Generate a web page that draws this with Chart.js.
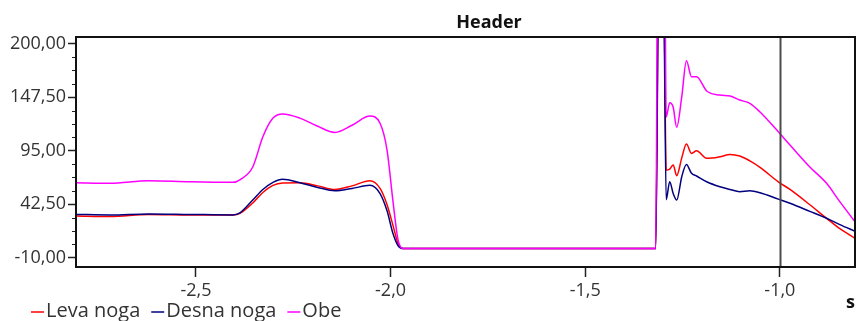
<!DOCTYPE html>
<html>
<head>
<meta charset="utf-8">
<script src="https://cdn.jsdelivr.net/npm/chart.js@4.4.1/dist/chart.umd.min.js"></script>
<style>
  html, body { margin: 0; padding: 0; background: #ffffff; }
  #wrap { width: 856px; height: 321px; }
</style>
</head>
<body>
<div id="wrap"><canvas id="forceChart" width="856" height="321"></canvas></div>
<script>
// ===== DATA =====
var chartTitle = "Header";
var xAxisUnit = "s";
var seriesNames = ["Leva noga", "Desna noga", "Obe"];
var seriesColors = ["#ff0000", "#000080", "#ff00ff"];

var timeSec = [-2.808, -2.721, -2.621, -2.516, -2.405, -2.387, -2.354, -2.328, -2.302, -2.277,
    -2.233, -2.187, -2.143, -2.099, -2.053, -2.027, -2.009, -1.994, -1.981, -1.968,
    -1.925, -1.719, -1.462, -1.319, -1.311, -1.298, -1.292, -1.283, -1.274, -1.265,
    -1.252, -1.240, -1.227, -1.214, -1.188, -1.154, -1.128, -1.103, -1.077, -1.051,
    -1.004, -0.974, -0.923, -0.880, -0.846, -0.807];

var levaNoga = [31, 30.5, 32.5, 32, 32, 33.5, 43.7, 54, 61, 63.3,
    63.5, 60.5, 57, 60.5, 65.5, 58, 42, 22, 4.4, -1,
    -1, -1, -1, -1, 280, 250, 76, 77, 81, 70.5,
    88, 101.6, 92.4, 95, 87.5, 89.1, 91.4, 89.8, 85, 78.7,
    64.5, 57, 42, 28.7, 18.5, 9];

var desnaNoga = [32.5, 32, 33, 32.5, 32, 34, 46.6, 57, 64, 67,
    63.6, 59, 55.7, 58, 61, 53, 36, 14, 2, -1,
    -1, -1, -1, -1, 260, 230, 47, 64.6, 53, 46.6,
    69.5, 81.6, 72.8, 70.2, 64.6, 59.7, 57, 54.8, 55.7, 53.8,
    47.5, 43.4, 35.5, 28.7, 22.5, 16];

var obe = [63.5, 63, 65.5, 64.5, 64, 66.5, 79, 108.7, 127, 131,
    127, 119, 113, 120, 129, 122, 95.7, 46, 8, -1,
    -1, -1, -1, -1, 540, 480, 128, 142, 137.6, 118,
    148, 183.3, 167.6, 167.6, 153.6, 149.6, 148.6, 144.7, 141.5, 133,
    113.6, 100.6, 79, 63, 45, 25.3];

var xTicks = [-2.5, -2.0, -1.5, -1.0];
var yTicks = [-10, 42.5, 95, 147.5, 200];
var yMinorStep = 13.125;
var cursorTime = -1.0;

var xMin = -2.808, xMax = -0.807;
var yMin = -19.1, yMax = 206.6;

// ===== HELPERS =====
function toPoints(xs, ys) {
    return xs.map(function (x, i) { return { x: x, y: ys[i] }; });
}

function commaNum(v, digits) {
    return v.toFixed(digits).replace('.', ',');
}

var FONT = "'Open Sans', 'Noto Sans', sans-serif";
var TEXT_COLOR = "#333333";

// ===== PLUGINS =====
var framePlugin = {
    id: 'frame',
    afterDatasetsDraw: function (chart) {
        var ctx = chart.ctx;
        var area = chart.chartArea;
        var xs = chart.scales.x;
        var ys = chart.scales.y;

        ctx.save();
        // cursor line
        var cx = Math.round(xs.getPixelForValue(cursorTime)) + 0.5;
        ctx.strokeStyle = "#4a4a4a";
        ctx.lineWidth = 2;
        ctx.beginPath();
        ctx.moveTo(cx, area.top);
        ctx.lineTo(cx, area.bottom);
        ctx.stroke();

        // minor y ticks
        ctx.strokeStyle = "#222222";
        ctx.lineWidth = 1;
        for (var v = yTicks[0]; v <= yMax; v += yMinorStep) {
            if (yTicks.indexOf(v) >= 0) continue;
            var py = Math.round(ys.getPixelForValue(v)) + 0.5;
            ctx.beginPath();
            ctx.moveTo(area.left - 4, py);
            ctx.lineTo(area.left, py);
            ctx.stroke();
        }

        // frame
        ctx.strokeStyle = "#111111";
        ctx.lineWidth = 2;
        ctx.strokeRect(area.left, area.top, area.right - area.left, area.bottom - area.top);
        ctx.restore();
    },
    afterDraw: function (chart) {
        var ctx = chart.ctx;
        ctx.save();

        // title
        ctx.fillStyle = "#111111";
        ctx.font = "bold 18px " + FONT;
        ctx.textAlign = "center";
        ctx.textBaseline = "alphabetic";
        ctx.fillText(chartTitle, 489, 28);

        // unit
        ctx.textAlign = "left";
        ctx.fillText(xAxisUnit, 846, 308);

        // legend
        ctx.font = "20px " + FONT;
        ctx.fillStyle = TEXT_COLOR;
        var lx = 31;
        seriesNames.forEach(function (name, i) {
            ctx.strokeStyle = seriesColors[i];
            ctx.globalAlpha = 0.75;
            ctx.lineWidth = 2;
            ctx.beginPath();
            ctx.moveTo(lx, 312);
            ctx.lineTo(lx + 13, 312);
            ctx.stroke();
            ctx.globalAlpha = 1;
            ctx.fillText(name, lx + 15, 317);
            lx += 15 + ctx.measureText(name).width + 11;
        });
        ctx.restore();
    }
};

// ===== CHART =====
var datasets = [
    { label: seriesNames[0], data: toPoints(timeSec, levaNoga), borderColor: seriesColors[0], order: 2 },
    { label: seriesNames[1], data: toPoints(timeSec, desnaNoga), borderColor: seriesColors[1], order: 1 },
    { label: seriesNames[2], data: toPoints(timeSec, obe), borderColor: seriesColors[2], order: 0 }
].map(function (d) {
    d.borderWidth = 1.5;
    d.pointRadius = 0;
    d.fill = false;
    d.cubicInterpolationMode = 'monotone';
    return d;
});

new Chart(document.getElementById("forceChart"), {
    type: "line",
    data: { datasets: datasets },
    options: {
        responsive: false,
        animation: false,
        devicePixelRatio: 1,
        layout: { padding: { top: 37, right: 1, left: 0, bottom: 0 } },
        plugins: {
            legend: { display: false },
            title: { display: false },
            tooltip: { enabled: false }
        },
        scales: {
            x: {
                type: 'linear',
                min: xMin,
                max: xMax,
                afterBuildTicks: function (axis) {
                    axis.ticks = xTicks.map(function (v) { return { value: v }; });
                },
                afterFit: function (scale) { scale.height = 54; },
                border: { display: false },
                grid: { drawOnChartArea: false, tickLength: 10, tickColor: "#222222", tickWidth: 1.5 },
                ticks: {
                    color: TEXT_COLOR,
                    font: { family: FONT, size: 18 },
                    padding: 3,
                    maxRotation: 0,
                    callback: function (v) { return commaNum(v, 1); }
                }
            },
            y: {
                min: yMin,
                max: yMax,
                afterBuildTicks: function (axis) {
                    axis.ticks = yTicks.map(function (v) { return { value: v }; });
                },
                afterFit: function (scale) { scale.width = 76; },
                border: { display: false },
                grid: { drawOnChartArea: false, tickLength: 8, tickColor: "#222222", tickWidth: 1.5 },
                ticks: {
                    color: TEXT_COLOR,
                    font: { family: FONT, size: 18 },
                    padding: 2,
                    callback: function (v) { return commaNum(v, 2); }
                }
            }
        }
    },
    plugins: [framePlugin]
});
</script>
</body>
</html>
